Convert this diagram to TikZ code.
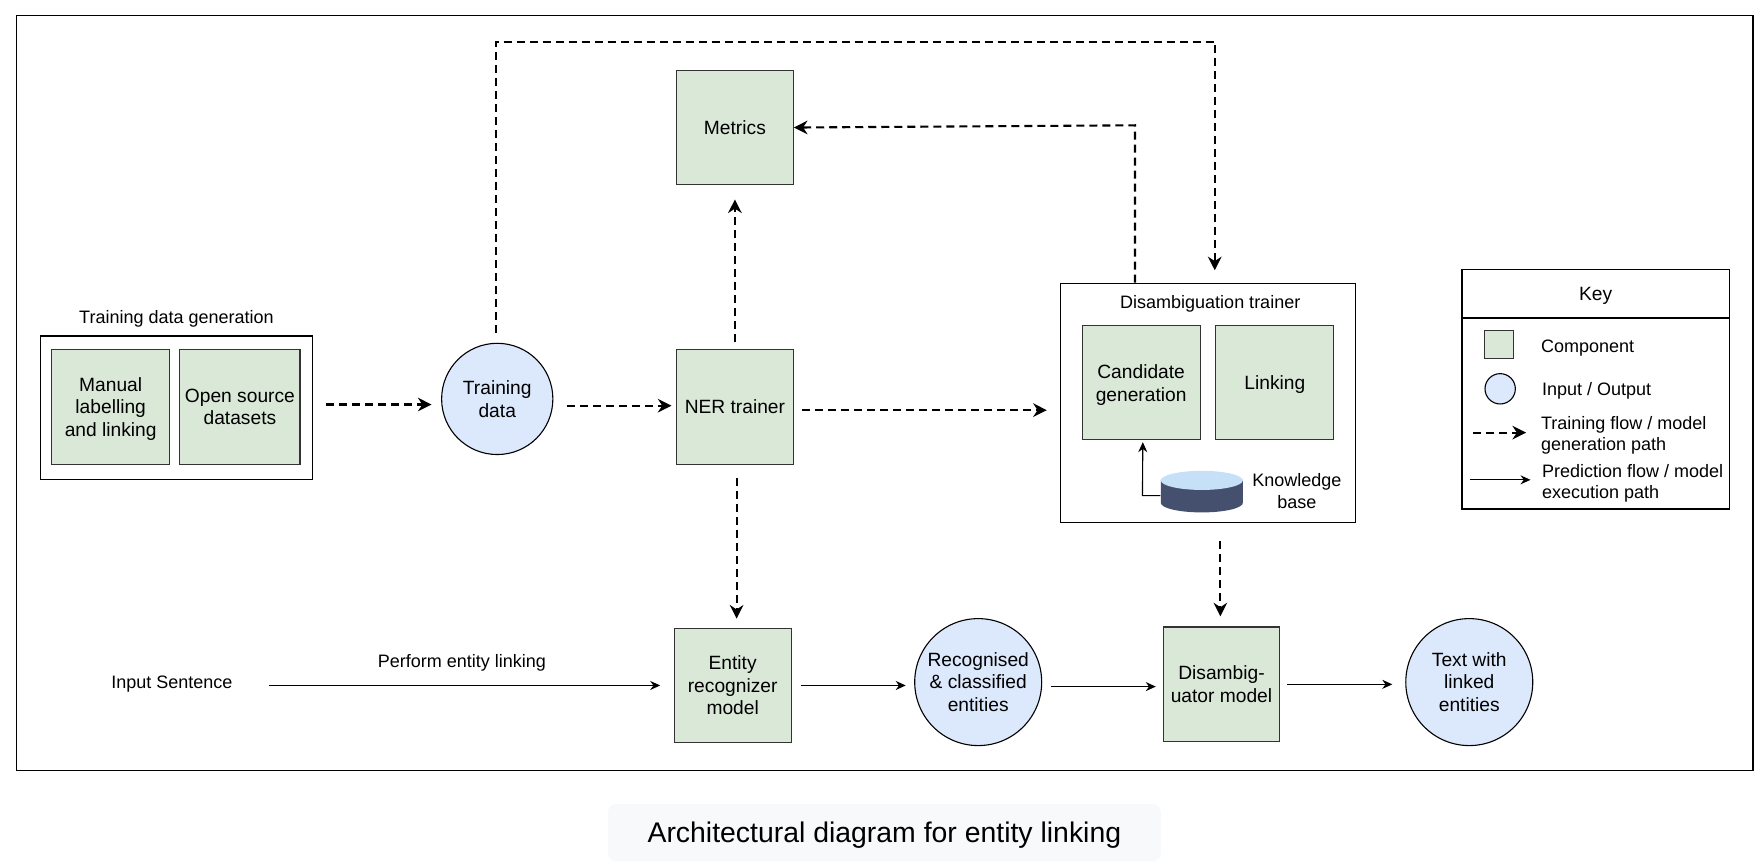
\documentclass[tikz,border=0pt]{standalone}
\usepackage{fontspec}
\setmainfont{Liberation Sans}
\usetikzlibrary{arrows.meta,calc}
\definecolor{gfill}{HTML}{DAE8D8}
\definecolor{bfill}{HTML}{DCE8FB}
\definecolor{kbdark}{HTML}{44506E}
\definecolor{kbtop}{HTML}{C5E0F7}
\definecolor{capfill}{HTML}{F8F9FB}
\newdimen\uu \uu=0.5618pt
\newcommand{\dnstrut}{\rule{0pt}{9.1pt}}
\tikzset{
  x=\uu, y=-\uu,
  txt/.style={font=\fontsize{9.6pt}{11.3pt}\selectfont, align=center, text=black},
  small/.style={font=\fontsize{9pt}{10.8pt}\selectfont, align=left, text=black, inner sep=0pt},
  comp/.style={draw=black!80, line width=0.55pt, fill=gfill, inner sep=0pt, minimum width=105\uu, minimum height=102\uu, txt},
  io/.style={circle, draw=black, line width=0.55pt, fill=bfill, inner sep=0pt, txt},
  frame/.style={draw=black, line width=0.55pt, fill=white, inner sep=0pt},
  train/.style={draw=black, line width=1.05pt, dash pattern=on 4pt off 2.5pt, -{Stealth[length=6.8pt,width=6.8pt]}},
  pred/.style={draw=black, line width=0.55pt, -{Stealth[length=5pt,width=4.5pt]}},
}
\begin{document}
\begin{tikzpicture}
\useasboundingbox (0,0) rectangle (1568,770.6);
% outer frame and caption
\node[frame, minimum width=1545\uu, minimum height=672\uu] (outer) at (787.5,350) {};
\node[fill=capfill, rounded corners=4pt, minimum width=492\uu, minimum height=51\uu, inner sep=0pt,
      font=\fontsize{14.2pt}{17pt}\selectfont] (caption) at (787,741) {\rule{0pt}{13.2pt}Architectural diagram for entity linking};
% training data generation
\node[frame, minimum width=242\uu, minimum height=128\uu] (gen) at (157,363) {};
\node[small, align=center] (genlabel) at (157,284) {Training data generation};
\node[comp] (manual) at (98.5,362) {\dnstrut Manual\\labelling\\and linking};
\node[comp, minimum width=107\uu] (open) at (213.5,362) {Open source\\datasets};
\node[io, minimum size=99\uu] (td) at (442.5,355) {Training\\data};
\node[comp, minimum width=104\uu] (ner) at (654,362) {NER trainer};
\node[comp, minimum width=104\uu, minimum height=101\uu] (metrics) at (654,113.5) {Metrics};
% disambiguation trainer
\node[frame, minimum width=262\uu, minimum height=213\uu] (dt) at (1075,358.5) {};
\node[small, align=center] (dtlabel) at (1077,270) {Disambiguation trainer};
\node[comp, minimum height=101\uu] (cand) at (1015.5,340.5) {\dnstrut Candidate\\generation};
\node[comp, minimum height=101\uu] (link) at (1134.5,340.5) {\dnstrut Linking};
\node[minimum width=73\uu, minimum height=37\uu, inner sep=0pt] (kb) at (1069.5,437.5) {};
\fill[kbdark] (1033,427) -- (1033,447.5) arc[start angle=180, end angle=0, x radius=36.5, y radius=8.5] -- (1106,427) -- cycle;
\fill[kbtop] (1069.5,427.5) ellipse[x radius=36.5, y radius=8.5];
\node[small, align=center] (kblabel) at (1154,437) {Knowledge\\[-0.2pt]base};
% bottom row
\node[small, align=center] (input) at (153,609) {Input Sentence};
\node[small, align=center] (perform) at (411,590) {Perform entity linking};
\node[comp, minimum width=104\uu] (entity) at (652,610) {Entity\\recognizer\\model};
\node[io, minimum size=113\uu] (rec) at (870.5,607) {Recognised\\\&{} classified\\entities};
\node[comp, minimum width=104\uu] (dis) at (1087,609) {Disambig-\\uator model};
\node[io, minimum size=113\uu] (out) at (1307.5,607) {Text with\\linked\\entities};
% key
\node[frame, minimum width=238\uu, minimum height=213\uu] (key) at (1420,346.5) {};
\node[frame, minimum width=238\uu, minimum height=43\uu, txt] (keyhead) at (1420,261.5) {\dnstrut Key};
\node[comp, minimum width=26\uu, minimum height=25\uu] (kcomp) at (1334,306.5) {};
\node[small, anchor=west] (kcomptxt) at (1371,310) {Component};
\node[io, minimum size=27\uu] (kio) at (1335,346) {};
\node[small, anchor=west] (kiotxt) at (1372,348) {Input / Output};
\coordinate (kt1) at (1311,385);
\coordinate (kt2) at (1358,385);
\draw[train] (kt1) -- (kt2);
\node[small, anchor=west] (kttxt) at (1371,387.5) {Training flow / model\\generation path};
\coordinate (kp1) at (1308,427);
\coordinate (kp2) at (1362,427);
\draw[pred] (kp1) -- (kp2);
\node[small, anchor=west] (kptxt) at (1372,430) {Prediction flow / model\\execution path};
% training connectors
\draw[train, shorten <=12\uu, shorten >=8.5\uu] ([yshift=3\uu]gen.east) -- ([yshift=-5\uu]td.west);
\draw[train, shorten <=12.5\uu, shorten >=4\uu] ([yshift=-6\uu]td.east) -- ([yshift=1\uu]ner.west);
\draw[train, shorten <=6\uu, shorten >=13\uu] (ner.north) -- (metrics.south);
\draw[train, shorten <=7\uu, shorten >=12\uu] ([yshift=-3\uu]ner.east) -- ([yshift=-6.5\uu]dt.west);
\draw[train, shorten <=12\uu, shorten >=8\uu] ([xshift=1.5\uu]ner.south) -- ([xshift=3.5\uu]entity.north);
\draw[train, shorten <=16\uu, shorten >=9\uu] ([xshift=11\uu]dt.south) -- ([xshift=-1\uu]dis.north);
\draw[train, shorten <=9\uu, shorten >=11\uu] ([xshift=-1.5\uu]td.north) -- ++(0,-268) -| ([xshift=6\uu]dt.north);
\draw[train] ([xshift=-65\uu]dt.north) -- ++(0,-140) -- (metrics.east);
% prediction connectors
\draw[pred] (kb.west) ++(0,3.5) -- ++(-16,0) -- ([xshift=1.5\uu,yshift=-2\uu]cand.south);
\draw[pred, shorten <=32\uu, shorten >=12\uu] (input.east |- entity.west) -- (entity.west);
\draw[pred, shorten <=8\uu, shorten >=7.5\uu] (entity.east) -- (rec.west |- entity.east);
\draw[pred, shorten <=7.5\uu, shorten >=6\uu] ([yshift=-4\uu]rec.east) -- ([yshift=-2\uu]dis.west);
\draw[pred, shorten <=6\uu, shorten >=11.5\uu] (dis.east) -- (out.west |- dis.east);
\end{tikzpicture}
\end{document}
